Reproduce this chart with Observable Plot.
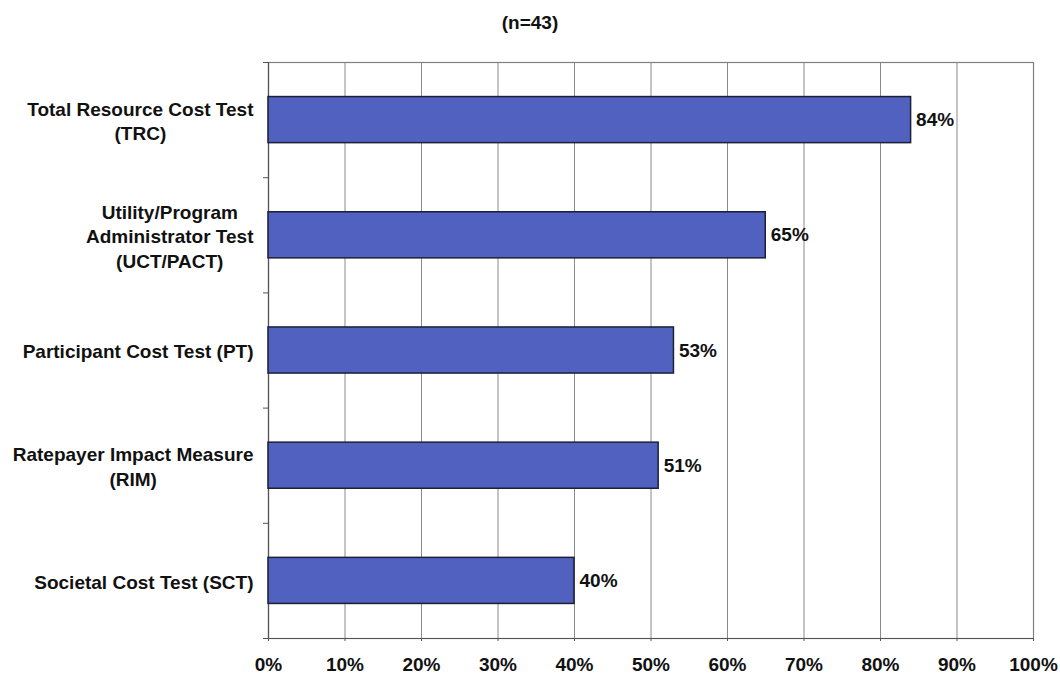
<!DOCTYPE html>
<html>
<head>
<meta charset="utf-8">
<script src="https://cdn.jsdelivr.net/npm/d3@7"></script>
<script src="https://cdn.jsdelivr.net/npm/@observablehq/plot@0.6"></script>
<style>
  body { margin: 0; background: #fff; }
  #title { width: 1060px; height: 28px; padding-top: 12px; line-height: 20px; text-align: center; font: bold 19px "Liberation Sans", Arial, sans-serif; color: #111; box-sizing: content-box; }
</style>
</head>
<body>
<div id="title">(n=43)</div>
<div id="chart"></div>
<script>
const categories = [
  "Total Resource Cost Test\n(TRC)",
  "Utility/Program\nAdministrator Test\n(UCT/PACT)",
  "Participant Cost Test (PT)",
  "Ratepayer Impact Measure\n(RIM)",
  "Societal Cost Test (SCT)"
];
const values = [84, 65, 53, 51, 40];
const xTicks = [0, 10, 20, 30, 40, 50, 60, 70, 80, 90, 100];

const FONT = "bold 19px 'Liberation Sans', Arial, sans-serif";
const data = categories.map((c, i) => ({cat: c, value: values[i], i}));

const ctx = document.createElement("canvas").getContext("2d");
ctx.font = FONT;
const blockWidth = c => Math.max(...c.split("\n").map(s => ctx.measureText(s).width));

const labelMarks = data.map(d => Plot.text([d], {
  x: () => 0,
  y: r => r.i + 0.5,
  text: "cat",
  textAnchor: "middle",
  lineHeight: 1.3,
  dx: -(15 + blockWidth(d.cat) / 2),
  fill: "#111"
}));

const chart = Plot.plot({
  width: 1060,
  height: 637,
  marginTop: 22,
  marginBottom: 39,
  marginLeft: 268,
  marginRight: 27,
  style: {fontFamily: "'Liberation Sans', Arial, sans-serif", fontSize: "19px", fontWeight: "bold", color: "#111", background: "#fff"},
  x: {domain: [0, 100], label: null},
  y: {domain: [0, 5], reverse: true, label: null},
  marks: [
    Plot.gridX(xTicks, {stroke: "#8a8a8a", strokeOpacity: 1, strokeWidth: 1}),
    Plot.frame({stroke: "#808080", strokeWidth: 1.2}),
    Plot.axisX(xTicks, {tickFormat: d => d + "%", tickSize: 3, tickPadding: 16, stroke: "#555", fontSize: 19, fontWeight: "bold", label: null}),
    Plot.axisY(d3.range(0, 6), {tickFormat: () => "", tickSize: 5, stroke: "#555", label: null}),
    Plot.ruleX([0], {stroke: "#555", strokeWidth: 1.2}),
    Plot.ruleY([5], {stroke: "#555", strokeWidth: 1.2}),
    Plot.rectX(data, {x1: 0, x2: "value", y1: d => d.i + 0.3, y2: d => d.i + 0.7, fill: "#5061c0", stroke: "#1c1f36", strokeWidth: 1.5}),
    Plot.text(data, {x: "value", y: d => d.i + 0.5, text: d => d.value + "%", textAnchor: "start", dx: 5, fill: "#111"}),
    ...labelMarks
  ]
});
document.getElementById("chart").appendChild(chart);
</script>
</body>
</html>
